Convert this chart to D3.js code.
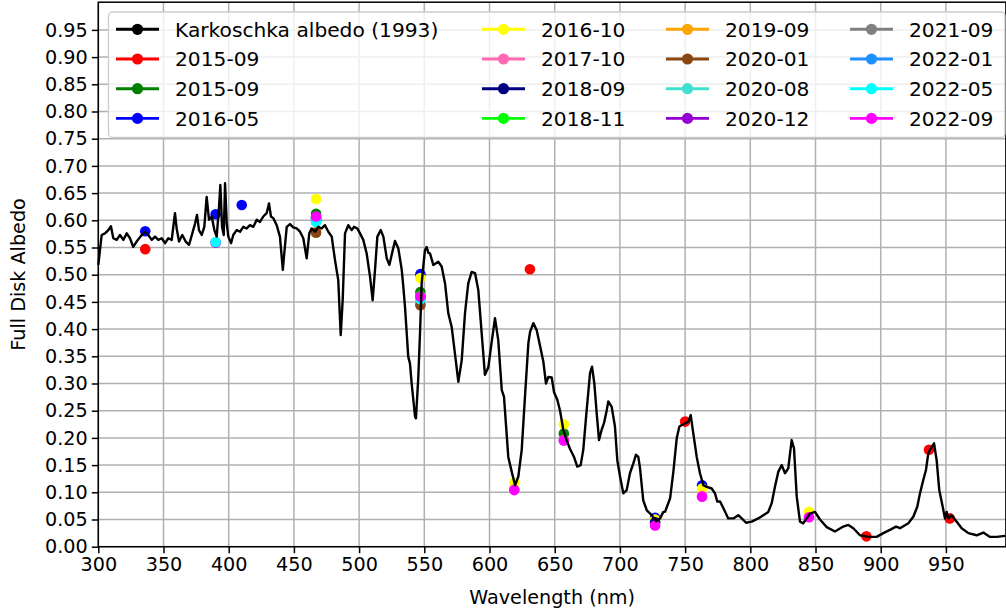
<!DOCTYPE html>
<html>
<head>
<meta charset="utf-8">
<script src="https://cdn.jsdelivr.net/npm/d3@7"></script>
<style>
  body { margin: 0; background: #fff; }
  svg { display: block; }
  text { font-family: "DejaVu Sans", sans-serif; fill: #000; }
</style>
</head>
<body>
<svg id="chart" width="1006" height="615"></svg>
<script>
// Karkoschka (1993) full-disk albedo spectrum
const karkWavelength = [
  300.0, 302.6, 305.1, 307.7, 309.7, 311.5, 314.1, 316.6, 319.2, 321.8, 324.3, 326.8, 329.4, 333.3,
  335.8, 338.3, 341.0, 343.5, 346.0, 348.6, 351.2, 353.7, 356.3, 358.8, 360.1, 361.9, 364.4, 367.0,
  369.6, 372.1, 374.2, 375.7, 377.2, 379.3, 381.3, 383.1, 384.9, 387.0, 389.0, 390.8, 392.6, 393.6,
  394.9, 396.2, 397.2, 398.5, 399.7, 401.8, 403.5, 406.1, 408.7, 411.2, 413.8, 416.3, 418.9, 421.5,
  424.0, 426.5, 429.1, 430.9, 432.4, 434.2, 436.8, 439.3, 441.5, 442.6, 444.5, 447.0, 449.5, 452.1,
  454.7, 457.2, 459.8, 461.8, 463.6, 466.2, 468.7, 471.3, 473.8, 476.4, 479.0, 481.5, 484.0, 485.9,
  487.4, 489.2, 491.7, 494.3, 496.1, 498.6, 500.7, 503.2, 505.8, 508.4, 510.4, 512.2, 514.0, 516.6,
  518.6, 521.2, 523.2, 526.2, 527.5, 530.1, 532.7, 533.9, 535.2, 537.7, 539.0, 540.3, 542.9, 543.6,
  545.4, 546.7, 548.0, 549.2, 550.5, 551.8, 553.1, 554.4, 556.9, 560.7, 563.3, 565.9, 568.4, 571.0,
  573.5, 576.1, 578.7, 581.2, 583.7, 586.3, 588.9, 591.4, 594.0, 596.5, 599.1, 601.7, 604.2, 606.7,
  609.4, 611.1, 614.4, 617.0, 619.6, 622.1, 624.7, 627.2, 629.8, 631.1, 633.6, 636.2, 638.7, 641.3,
  643.3, 645.1, 647.7, 649.5, 652.0, 654.1, 656.6, 659.2, 661.7, 664.8, 667.3, 669.9, 671.9, 674.5,
  677.1, 678.6, 680.4, 682.2, 684.0, 686.0, 687.8, 689.9, 691.1, 693.7, 696.2, 698.0, 700.1, 702.6,
  705.2, 707.7, 710.3, 712.3, 714.1, 715.4, 717.9, 720.6, 721.8, 724.4, 727.7, 730.8, 733.3, 734.6,
  738.5, 741.0, 743.6, 745.6, 748.6, 752.5, 754.3, 756.3, 758.9, 761.4, 764.0, 766.6, 770.4, 772.9,
  774.7, 776.8, 779.3, 783.1, 787.0, 790.8, 793.4, 796.7, 801.1, 806.1, 810.0, 813.8, 816.4, 818.9,
  821.5, 824.1, 826.6, 829.1, 831.7, 833.5, 835.6, 838.1, 840.6, 843.3, 845.8, 849.6, 853.4, 858.6,
  864.9, 871.3, 875.2, 879.0, 884.1, 890.5, 896.9, 902.0, 907.1, 911.7, 914.8, 921.2, 925.0, 928.1,
  930.1, 932.7, 934.7, 936.5, 938.6, 940.9, 942.9, 944.9, 947.5, 949.3, 950.6, 951.8, 954.4, 958.3,
  962.1, 967.2, 973.6, 978.7, 983.8, 989.0, 995.4
];
const karkAlbedo = [
  0.518, 0.573, 0.576, 0.582, 0.589, 0.567, 0.564, 0.573, 0.564, 0.576, 0.567, 0.551, 0.561, 0.573,
  0.579, 0.573, 0.564, 0.570, 0.564, 0.567, 0.558, 0.567, 0.564, 0.613, 0.585, 0.561, 0.573, 0.561,
  0.555, 0.576, 0.594, 0.610, 0.582, 0.573, 0.588, 0.643, 0.601, 0.607, 0.582, 0.570, 0.625, 0.665,
  0.588, 0.573, 0.668, 0.594, 0.570, 0.558, 0.573, 0.582, 0.579, 0.588, 0.585, 0.591, 0.588, 0.601,
  0.597, 0.607, 0.613, 0.631, 0.607, 0.604, 0.591, 0.570, 0.509, 0.539, 0.588, 0.593, 0.587, 0.585,
  0.579, 0.567, 0.530, 0.576, 0.585, 0.579, 0.588, 0.585, 0.591, 0.579, 0.570, 0.527, 0.490, 0.389,
  0.453, 0.576, 0.591, 0.582, 0.588, 0.585, 0.576, 0.564, 0.539, 0.496, 0.453, 0.509, 0.570, 0.582,
  0.570, 0.530, 0.518, 0.549, 0.562, 0.548, 0.509, 0.478, 0.441, 0.349, 0.337, 0.300, 0.239, 0.236,
  0.312, 0.392, 0.484, 0.515, 0.545, 0.551, 0.540, 0.539, 0.518, 0.524, 0.515, 0.484, 0.429, 0.404,
  0.355, 0.303, 0.343, 0.429, 0.484, 0.505, 0.503, 0.472, 0.392, 0.316, 0.330, 0.377, 0.420, 0.380,
  0.288, 0.276, 0.165, 0.138, 0.113, 0.129, 0.178, 0.276, 0.374, 0.395, 0.411, 0.398, 0.370, 0.340,
  0.300, 0.312, 0.311, 0.284, 0.270, 0.250, 0.215, 0.195, 0.180, 0.165, 0.147, 0.150, 0.178, 0.251,
  0.319, 0.331, 0.300, 0.245, 0.196, 0.215, 0.227, 0.251, 0.267, 0.257, 0.221, 0.159, 0.129, 0.098,
  0.104, 0.135, 0.153, 0.169, 0.165, 0.145, 0.085, 0.067, 0.064, 0.058, 0.047, 0.052, 0.064, 0.064,
  0.089, 0.138, 0.200, 0.221, 0.225, 0.230, 0.242, 0.208, 0.165, 0.135, 0.113, 0.110, 0.107, 0.098,
  0.083, 0.083, 0.071, 0.052, 0.052, 0.058, 0.052, 0.044, 0.046, 0.052, 0.058, 0.064, 0.080, 0.110,
  0.138, 0.150, 0.135, 0.144, 0.196, 0.181, 0.092, 0.046, 0.043, 0.052, 0.061, 0.064, 0.050, 0.036,
  0.028, 0.037, 0.040, 0.034, 0.021, 0.018, 0.018, 0.025, 0.031, 0.037, 0.034, 0.043, 0.055, 0.074,
  0.098, 0.123, 0.141, 0.172, 0.181, 0.190, 0.159, 0.104, 0.074, 0.052, 0.064, 0.052, 0.058, 0.046,
  0.034, 0.025, 0.021, 0.026, 0.018, 0.018, 0.020
];

// Observation epochs (legend order after the reference spectrum)
const epochLabels = [
  "2015-09", "2015-09", "2016-05", "2016-10", "2017-10", "2018-09", "2018-11",
  "2019-09", "2020-01", "2020-08", "2020-12", "2021-09", "2022-01", "2022-05", "2022-09"
];
const epochColors = [
  "red", "green", "blue", "yellow", "hotpink", "navy", "lime",
  "orange", "saddlebrown", "turquoise", "darkviolet", "gray", "dodgerblue", "cyan", "magenta"
];
// Filter central wavelengths (nm) observed in each epoch
const epochWavelengths = [
  [336, 631, 750, 889, 937, 953],
  [467, 547, 657],
  [336, 390, 410, 547, 727, 763],
  [467, 547, 619, 657, 727, 763, 845],
  [467, 547, 619, 657, 763],
  [467, 547, 727],
  [467, 547],
  [467, 547],
  [467, 547],
  [467, 547],
  [390, 467, 547],
  [467, 547],
  [467, 547],
  [390, 467, 547],
  [467, 547, 619, 657, 727, 763, 845]
];
// Measured disk albedo per filter
const epochAlbedo = [
  [0.547, 0.510, 0.230, 0.019, 0.178, 0.052],
  [0.612, 0.468, 0.208],
  [0.580, 0.611, 0.628, 0.501, 0.053, 0.113],
  [0.639, 0.494, 0.118, 0.225, 0.050, 0.107, 0.064],
  [0.606, 0.459, 0.105, 0.196, 0.093],
  [0.604, 0.458, 0.045],
  [0.605, 0.461],
  [0.579, 0.446],
  [0.577, 0.444],
  [0.598, 0.456],
  [0.559, 0.600, 0.457],
  [0.603, 0.459],
  [0.600, 0.457],
  [0.560, 0.597, 0.455],
  [0.607, 0.460, 0.104, 0.195, 0.039, 0.092, 0.054]
];

const xTicks = [300, 350, 400, 450, 500, 550, 600, 650, 700, 750, 800, 850, 900, 950];
const yTicks = [0, 0.05, 0.10, 0.15, 0.20, 0.25, 0.30, 0.35, 0.40, 0.45, 0.50,
                0.55, 0.60, 0.65, 0.70, 0.75, 0.80, 0.85, 0.90, 0.95];

const svg = d3.select("#chart");
const plot = { left: 98.3, right: 1005.9, top: 2.2, bottom: 546.7 };

const x = d3.scaleLinear().domain([300, 996]).range([plot.left, plot.right]);
const y = d3.scaleLinear().domain([0, 1.0]).range([plot.bottom, plot.bottom - 544]);

const fontSize = 19.2;
const gridColor = "#b0b0b0";

// Grid lines
const grid = svg.append("g");
grid.selectAll("line.gx").data(xTicks).join("line")
  .attr("x1", d => x(d)).attr("x2", d => x(d))
  .attr("y1", plot.top).attr("y2", plot.bottom)
  .attr("stroke", gridColor).attr("stroke-width", 1.5);
grid.selectAll("line.gy").data(yTicks).join("line")
  .attr("x1", plot.left).attr("x2", plot.right)
  .attr("y1", d => y(d)).attr("y2", d => y(d))
  .attr("stroke", gridColor).attr("stroke-width", 1.5);

// Observation points, one layer per epoch
const pts = svg.append("g");
epochLabels.forEach((lab, i) => {
  const data = epochWavelengths[i].map((w, j) => [w, epochAlbedo[i][j]]);
  pts.append("g").selectAll("circle").data(data).join("circle")
    .attr("cx", d => x(d[0])).attr("cy", d => y(d[1]))
    .attr("r", 5.3).attr("fill", epochColors[i]);
});

// Reference spectrum
const line = d3.line().x(d => x(d[0])).y(d => y(d[1]));
svg.append("path")
  .datum(karkWavelength.map((w, i) => [w, karkAlbedo[i]]))
  .attr("d", line)
  .attr("fill", "none").attr("stroke", "#000").attr("stroke-width", 2.4)
  .attr("stroke-linejoin", "round");

// Axes
const xAxis = d3.axisBottom(x).tickValues(xTicks).tickSize(6.5).tickPadding(4)
  .tickFormat(d3.format("d"));
const yAxis = d3.axisLeft(y).tickValues(yTicks).tickSize(6.5).tickPadding(4)
  .tickFormat(d3.format(".2f"));

const gx = svg.append("g").attr("transform", `translate(0,${plot.bottom})`).call(xAxis);
const gy = svg.append("g").attr("transform", `translate(${plot.left},0)`).call(yAxis);
[gx, gy].forEach(g => {
  g.select(".domain").remove();
  g.selectAll(".tick line").attr("stroke", "#000").attr("stroke-width", 1.5);
  g.selectAll(".tick text").attr("font-size", fontSize)
    .attr("font-family", "DejaVu Sans, sans-serif").attr("fill", "#000");
});

// Frame
svg.append("rect")
  .attr("x", plot.left).attr("y", plot.top)
  .attr("width", plot.right - plot.left).attr("height", plot.bottom - plot.top)
  .attr("fill", "none").attr("stroke", "#000").attr("stroke-width", 1.5);

// Axis titles
svg.append("text")
  .attr("x", (plot.left + plot.right) / 2).attr("y", 604)
  .attr("text-anchor", "middle").attr("font-size", fontSize)
  .text("Wavelength (nm)");
svg.append("text")
  .attr("transform", `translate(25,${(plot.top + plot.bottom) / 2}) rotate(-90)`)
  .attr("text-anchor", "middle").attr("font-size", fontSize)
  .text("Full Disk Albedo");

// Legend
const legendLabels = ["Karkoschka albedo (1993)"].concat(epochLabels);
const legendColors = ["black"].concat(epochColors);
const legendBox = { x: 108.5, y: 12, w: 896.5, h: 125.5 };
const colX = [116, 482, 666, 850];
const rowY0 = 29.3, rowStep = 29.7, handleLen = 43, textGap = 16;

const legend = svg.append("g");
legend.append("rect")
  .attr("x", legendBox.x).attr("y", legendBox.y)
  .attr("width", legendBox.w).attr("height", legendBox.h)
  .attr("rx", 4).attr("ry", 4)
  .attr("fill", "rgba(255,255,255,0.8)").attr("stroke", "#cccccc").attr("stroke-width", 1.3);

legendLabels.forEach((lab, i) => {
  const cx = colX[Math.floor(i / 4)];
  const cy = rowY0 + (i % 4) * rowStep;
  const item = legend.append("g");
  item.append("line")
    .attr("x1", cx).attr("x2", cx + handleLen).attr("y1", cy).attr("y2", cy)
    .attr("stroke", legendColors[i]).attr("stroke-width", 2.9);
  item.append("circle")
    .attr("cx", cx + handleLen / 2).attr("cy", cy).attr("r", 5.6)
    .attr("fill", legendColors[i]);
  item.append("text")
    .attr("x", cx + handleLen + textGap).attr("y", cy + 7.2)
    .attr("font-size", 20.2).text(lab);
});
</script>
</body>
</html>
